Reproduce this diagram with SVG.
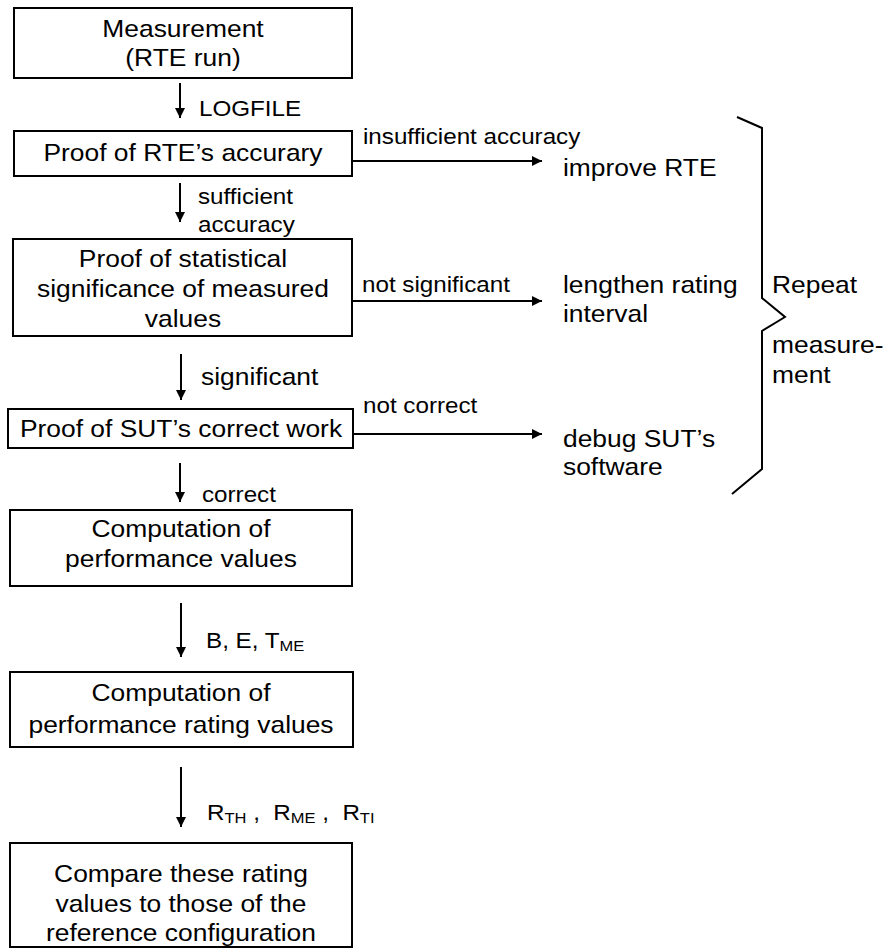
<svg xmlns="http://www.w3.org/2000/svg" width="890" height="950" viewBox="0 0 890 950">
<defs>
<style>
.box{fill:#fff;stroke:#000;stroke-width:2}
text{font-family:"Liberation Sans",Arial,sans-serif;fill:#000;white-space:pre}
.t{font-size:24px;text-anchor:middle}
.o{font-size:24px}
.l{font-size:22px}
.lb{font-size:24px}
.sub{font-size:15px}
.c{stroke:#000;stroke-width:2;fill:none}
</style>
<marker id="ah" viewBox="0 0 10 10" refX="10" refY="5" markerWidth="5.5" markerHeight="5" orient="auto" markerUnits="strokeWidth">
<path d="M0,0 L10,5 L0,10 z" fill="#000"/>
</marker>
</defs>
<rect width="890" height="950" fill="#fff"/>

<g id="n1"><rect class="box" x="14" y="8" width="338" height="70"/>
<text class="t" transform="matrix(1.1 0 0 1 183 37)">Measurement</text><text class="t" transform="matrix(1.1 0 0 1 183 66)">(RTE run)</text></g>

<g id="n2"><rect class="box" x="14" y="131" width="338" height="45"/>
<text class="t" transform="matrix(1.1 0 0 1 183 161)">Proof of RTE’s accurary</text></g>

<g id="n3"><rect class="box" x="13" y="239" width="339" height="97"/>
<text class="t" transform="matrix(1.1 0 0 1 183 267)">Proof of statistical</text><text class="t" transform="matrix(1.1 0 0 1 183 297)">significance of measured</text><text class="t" transform="matrix(1.1 0 0 1 183 327)">values</text></g>

<g id="n4"><rect class="box" x="8" y="409" width="345" height="39"/>
<text class="t" transform="matrix(1.1 0 0 1 181 437)">Proof of SUT’s correct work</text></g>

<g id="n5"><rect class="box" x="10" y="510" width="342" height="76"/>
<text class="t" transform="matrix(1.1 0 0 1 181 537)">Computation of</text><text class="t" transform="matrix(1.1 0 0 1 181 567)">performance values</text></g>

<g id="n6"><rect class="box" x="10" y="672" width="343" height="75"/>
<text class="t" transform="matrix(1.1 0 0 1 181 701)">Computation of</text><text class="t" transform="matrix(1.1 0 0 1 181 733)">performance rating values</text></g>

<g id="n7"><rect class="box" x="10" y="843" width="342" height="104"/>
<text class="t" transform="matrix(1.1 0 0 1 181 882)">Compare these rating</text><text class="t" transform="matrix(1.1 0 0 1 181 912)">values to those of the</text><text class="t" transform="matrix(1.1 0 0 1 181 941)">reference configuration</text></g>

<g id="o1"><text class="o" transform="matrix(1.1 0 0 1 563 176)">improve RTE</text></g>
<g id="o2"><text class="o" transform="matrix(1.1 0 0 1 563 293)">lengthen rating</text><text class="o" transform="matrix(1.1 0 0 1 563 322)">interval</text></g>
<g id="o3"><text class="o" transform="matrix(1.1 0 0 1 563 447)">debug SUT’s</text><text class="o" transform="matrix(1.1 0 0 1 563 475)">software</text></g>
<g id="repeat"><text class="o" transform="matrix(1.1 0 0 1 772 293)">Repeat</text><text class="o" transform="matrix(1.1 0 0 1 772 353)">measure-</text><text class="o" transform="matrix(1.1 0 0 1 772 383)">ment</text></g>

<g id="connectors">
<line class="c" x1="180" y1="83" x2="180" y2="118" marker-end="url(#ah)"/>
<line class="c" x1="180" y1="183" x2="180" y2="222" marker-end="url(#ah)"/>
<line class="c" x1="181" y1="354" x2="181" y2="400" marker-end="url(#ah)"/>
<line class="c" x1="180" y1="463" x2="180" y2="502" marker-end="url(#ah)"/>
<line class="c" x1="181" y1="603" x2="181" y2="657" marker-end="url(#ah)"/>
<line class="c" x1="181" y1="767" x2="181" y2="827" marker-end="url(#ah)"/>
<line class="c" x1="352" y1="161" x2="542" y2="161" marker-end="url(#ah)"/>
<line class="c" x1="352" y1="301" x2="542" y2="301" marker-end="url(#ah)"/>
<line class="c" x1="353" y1="434" x2="542" y2="434" marker-end="url(#ah)"/>
<path class="c" d="M737,117 L762,128 L762,298 L785,317 L762,331 L762,469 L732,494"/>
<text class="l" transform="matrix(1.1 0 0 1 199 116)">LOGFILE</text>
<text class="l" transform="matrix(1.1 0 0 1 198 204)">sufficient</text>
<text class="l" transform="matrix(1.1 0 0 1 198 232)">accuracy</text>
<text class="lb" transform="matrix(1.1 0 0 1 201 385)">significant</text>
<text class="l" transform="matrix(1.1 0 0 1 202 502)">correct</text>
<text class="l" transform="matrix(1.1 0 0 1 206 648)">B, E, T<tspan class="sub" dy="3">ME</tspan></text>
<text class="l" transform="matrix(1.1 0 0 1 207 820)">R<tspan class="sub" dy="3">TH</tspan><tspan dy="-3"> ,  R</tspan><tspan class="sub" dy="3">ME</tspan><tspan dy="-3"> ,  R</tspan><tspan class="sub" dy="3">TI</tspan></text>
<text class="l" transform="matrix(1.1 0 0 1 363 144)">insufficient accuracy</text>
<text class="l" transform="matrix(1.1 0 0 1 362 292)">not significant</text>
<text class="l" transform="matrix(1.1 0 0 1 363 413)">not correct</text>
</g>
</svg>
